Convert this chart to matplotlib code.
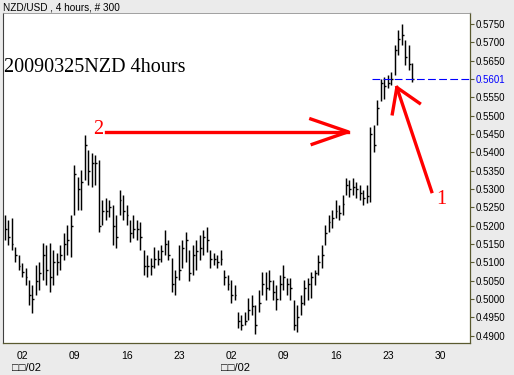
import matplotlib
matplotlib.use("Agg")
import matplotlib.pyplot as plt
import numpy as np

# NZD/USD 4h bars (high / low / close)
highs = [
    0.5229, 0.5216, 0.5221, 0.5142, 0.5120, 0.5099, 0.5085, 0.5052, 0.5038, 0.5092,
    0.5100, 0.5152, 0.5147, 0.5152, 0.5134, 0.5125, 0.5147, 0.5180, 0.5202, 0.5229,
    0.5365, 0.5332, 0.5351, 0.5447, 0.5406, 0.5398, 0.5393, 0.5379, 0.5270, 0.5276,
    0.5270, 0.5256, 0.5229, 0.5297, 0.5284, 0.5256, 0.5216, 0.5229, 0.5216, 0.5210,
    0.5134, 0.5120, 0.5112, 0.5142, 0.5134, 0.5147, 0.5188, 0.5161, 0.5112, 0.5079,
    0.5147, 0.5161, 0.5183, 0.5134, 0.5147, 0.5161, 0.5175, 0.5188, 0.5196, 0.5134,
    0.5125, 0.5120, 0.5134, 0.5079, 0.5066, 0.5052, 0.5038, 0.4964, 0.4956, 0.4964,
    0.5003, 0.5011, 0.4984, 0.5025, 0.5074, 0.5074, 0.5079, 0.5052, 0.5038, 0.5066,
    0.5093, 0.5058, 0.5058, 0.4997, 0.4984, 0.5011, 0.5052, 0.5058, 0.5074, 0.5079,
    0.5120, 0.5147, 0.5202, 0.5229, 0.5243, 0.5270, 0.5256, 0.5284, 0.5330, 0.5325,
    0.5330, 0.5319, 0.5311, 0.5297, 0.5311, 0.5469, 0.5474, 0.5543, 0.5600, 0.5605,
    0.5611, 0.5619, 0.5693, 0.5734, 0.5750, 0.5706, 0.5692, 0.5643]
lows = [
    0.5160, 0.5147, 0.5134, 0.5101, 0.5080, 0.5060, 0.5038, 0.4984, 0.4962, 0.5011,
    0.5024, 0.5052, 0.5038, 0.5019, 0.5038, 0.5066, 0.5079, 0.5106, 0.5120, 0.5115,
    0.5229, 0.5243, 0.5243, 0.5324, 0.5311, 0.5305, 0.5311, 0.5183, 0.5202, 0.5216,
    0.5224, 0.5147, 0.5139, 0.5229, 0.5216, 0.5202, 0.5156, 0.5166, 0.5160, 0.5134,
    0.5066, 0.5060, 0.5066, 0.5085, 0.5093, 0.5101, 0.5120, 0.5106, 0.5019, 0.5011,
    0.5052, 0.5085, 0.5101, 0.5048, 0.5066, 0.5079, 0.5106, 0.5120, 0.5128, 0.5085,
    0.5093, 0.5085, 0.5093, 0.5038, 0.5025, 0.4989, 0.4997, 0.4921, 0.4916, 0.4929,
    0.4943, 0.4956, 0.4905, 0.4964, 0.5011, 0.4997, 0.5025, 0.4997, 0.4970, 0.4997,
    0.5025, 0.5011, 0.4997, 0.4916, 0.4910, 0.4956, 0.4984, 0.4997, 0.5003, 0.5038,
    0.5066, 0.5085, 0.5147, 0.5183, 0.5194, 0.5221, 0.5216, 0.5229, 0.5284, 0.5278,
    0.5284, 0.5276, 0.5270, 0.5256, 0.5262, 0.5264, 0.5400, 0.5474, 0.5540, 0.5545,
    0.5576, 0.5583, 0.5611, 0.5665, 0.5692, 0.5638, 0.5624, 0.5591]
closes = [
    0.5190, 0.5170, 0.5150, 0.5120, 0.5090, 0.5075, 0.5060, 0.5010, 0.5000, 0.5050,
    0.5070, 0.5120, 0.5080, 0.5060, 0.5100, 0.5100, 0.5120, 0.5150, 0.5160, 0.5200,
    0.5340, 0.5300, 0.5320, 0.5420, 0.5350, 0.5370, 0.5370, 0.5200, 0.5240, 0.5240,
    0.5250, 0.5200, 0.5170, 0.5270, 0.5240, 0.5230, 0.5180, 0.5190, 0.5190, 0.5170,
    0.5090, 0.5090, 0.5090, 0.5110, 0.5110, 0.5130, 0.5150, 0.5120, 0.5040, 0.5060,
    0.5080, 0.5140, 0.5160, 0.5070, 0.5120, 0.5130, 0.5140, 0.5170, 0.5160, 0.5110,
    0.5110, 0.5100, 0.5110, 0.5060, 0.5040, 0.5010, 0.5010, 0.4940, 0.4930, 0.4940,
    0.4970, 0.4980, 0.4930, 0.4990, 0.5040, 0.5030, 0.5050, 0.5020, 0.5000, 0.5040,
    0.5060, 0.5040, 0.5030, 0.4930, 0.4950, 0.4990, 0.5030, 0.5040, 0.5060, 0.5070,
    0.5100, 0.5120, 0.5180, 0.5210, 0.5220, 0.5240, 0.5235, 0.5260, 0.5310, 0.5300,
    0.5305, 0.5300, 0.5290, 0.5275, 0.5280, 0.5450, 0.5420, 0.5520, 0.5590, 0.5580,
    0.5590, 0.5600, 0.5680, 0.5710, 0.5720, 0.5660, 0.5640, 0.5601]

last_price = 0.5601
price_ticks = [0.4900, 0.4950, 0.5000, 0.5050, 0.5100, 0.5150, 0.5200, 0.5250,
               0.5300, 0.5350, 0.5400, 0.5450, 0.5500, 0.5550, 0.5601, 0.5650,
               0.5700, 0.5750]
# mondays (bar index) and their day labels
week_bars = [5, 20, 35, 50, 65, 80, 95, 110, 125]
week_labels = ["02", "09", "16", "23", "02", "09", "16", "23", "30"]
month_bars = [5, 65]
month_labels = ["\u25a1\u25a1/02", "\u25a1\u25a1/02"]

plt.rcParams['font.family'] = ['Liberation Sans', 'DejaVu Sans']
red = '#ff0000'
axis_col = '#5a5a30'

fig = plt.figure(figsize=(5.14, 3.75), dpi=100, facecolor='#ebebeb')
ax = fig.add_axes([3/514, 32/375, 467/514, 330/375])
ax.set_facecolor('white')

xs = np.arange(len(highs))
ax.vlines(xs, lows, highs, color='black', lw=1.05)
ax.hlines(closes, xs, xs + 0.55, color='black', lw=1.0)

ax.set_xlim(-0.46, 133.6)
ax.set_ylim(0.48801, 0.5780)

# current price line
ax.hlines(last_price, 105.4, 133.6, color='#0000ff', lw=0.8, linestyles=(0, (7, 3)))

ax.yaxis.tick_right()
ax.set_yticks(price_ticks)
ax.set_yticklabels([f"{v:.4f}" for v in price_ticks])
ax.tick_params(axis='y', direction='out', length=3, width=0.8, pad=0.8,
               labelsize=7, color=axis_col, labelcolor='black')
k = price_ticks.index(last_price)
ax.get_yticklabels()[k].set_color('#0000ff')
ax.yaxis.get_major_ticks()[k].tick2line.set_color('#0000ff')

ax.set_xticks(week_bars)
ax.set_xticklabels(week_labels)
ax.tick_params(axis='x', length=0, pad=5.5, labelsize=7.5)

xform = ax.get_xaxis_transform()
for b, lab in zip(month_bars, month_labels):
    ax.text(b + 1.2, -0.075, lab, transform=xform, ha='center', va='center',
            fontsize=8)

for side in ['bottom', 'right']:
    ax.spines[side].set_color(axis_col)
    ax.spines[side].set_linewidth(0.9)
ax.spines['left'].set_color('#404040')
ax.spines['top'].set_color('#909090')
ax.spines['top'].set_linewidth(0.6)

fig.text(3/514, 1 - 7/375, "NZD/USD , 4 hours, # 300", va='center', fontsize=7.2)

ax.text(-0.17, 0.5620, "20090325NZD 4hours", family='Liberation Serif',
        fontsize=14.5, va='baseline')

# hand drawn arrows
ax.plot([29.0, 98.6], [0.5456, 0.5456], color=red, lw=2.4)
ax.plot([87.9, 98.6, 88.3], [0.5491, 0.5456, 0.5422], color=red, lw=2.4)
ax.text(25.4, 0.5449, "2", color=red, family='Liberation Serif', fontsize=14.5,
        va='baseline')
ax.plot([122.6, 112.6], [0.5293, 0.5577], color=red, lw=2.4)
ax.plot([111.3, 112.6, 119.1], [0.5505, 0.5577, 0.5534], color=red, lw=2.4)
ax.text(123.9, 0.5259, "1", color=red, family='Liberation Serif', fontsize=14.5,
        va='baseline')

fig.savefig("out.png", dpi=100, facecolor=fig.get_facecolor())
